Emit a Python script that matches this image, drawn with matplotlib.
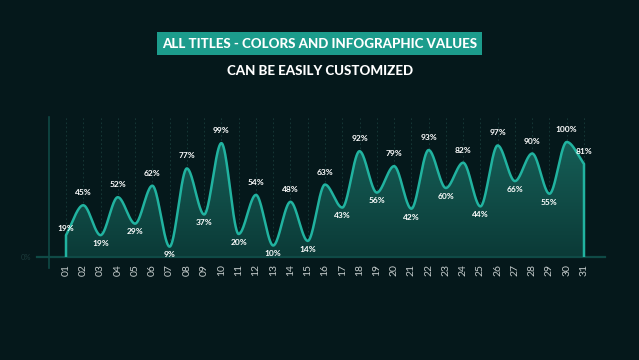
import numpy as np
import matplotlib
matplotlib.use("Agg")
import matplotlib.pyplot as plt
from matplotlib.patches import Rectangle, Polygon
from matplotlib.colors import LinearSegmentedColormap

# ---- data ----
days = ["01", "02", "03", "04", "05", "06", "07", "08", "09", "10", "11", "12", "13", "14", "15", "16",
        "17", "18", "19", "20", "21", "22", "23", "24", "25", "26", "27", "28", "29", "30", "31"]
values = [19, 45, 19, 52, 29, 62, 9, 77, 37, 99, 20, 54, 10, 48, 14, 63,
          43, 92, 56, 79, 42, 93, 60, 82, 44, 97, 66, 90, 55, 100, 81]
title_line1 = "ALL TITLES - COLORS AND INFOGRAPHIC VALUES"
title_line2 = "CAN BE EASILY CUSTOMIZED"

BG = "#05181b"
LINE = "#21b3a0"
BOX = "#1c9c8c"
AX_COL = "#0f4a46"
FONT = ["Lato", "DejaVu Sans"]

W, H = 639, 360
fig = plt.figure(figsize=(W / 100, H / 100), dpi=100, facecolor=BG)

# axes region in pixels
px_left, px_right, px_top, px_base = 49, 605, 117, 257
ax = fig.add_axes([px_left / W, (H - px_base) / H, (px_right - px_left) / W, (px_base - px_top) / H])
ax.set_facecolor(BG)
for s in ax.spines.values():
    s.set_visible(False)

n = len(values)
x = np.arange(1, n + 1, dtype=float)
y = np.array(values, dtype=float) / 100.0

step = (584 - 66) / 30.0
x_lo = 1 - (66 - px_left) / step
x_hi = 31 + (px_right - 584) / step
ppu = 115.0
y_hi = (px_base - px_top) / ppu

# monotone cubic (PCHIP) interpolation
d = np.diff(y)
m = np.zeros(n)
for k in range(1, n - 1):
    if d[k - 1] * d[k] > 0:
        m[k] = 2.0 / (1.0 / d[k - 1] + 1.0 / d[k])
m[0] = d[0]
m[-1] = d[-1]
xs, ys = [], []
for k in range(n - 1):
    t = np.linspace(0, 1, 40, endpoint=(k == n - 2))
    h00 = 2 * t**3 - 3 * t**2 + 1
    h10 = t**3 - 2 * t**2 + t
    h01 = -2 * t**3 + 3 * t**2
    h11 = t**3 - t**2
    xs.append(x[k] + t)
    ys.append(h00 * y[k] + h10 * m[k] + h01 * y[k + 1] + h11 * m[k + 1])
xs = np.concatenate(xs)
ys = np.concatenate(ys)

# grid
for xi in x:
    ax.plot([xi, xi], [0, y_hi], color="#183b39", lw=0.6, ls=(0, (2, 3)), zorder=1)

# gradient fill
poly_x = np.concatenate([[x[0]], xs, [x[-1]]])
poly_y = np.concatenate([[0], ys, [0]])
poly = Polygon(np.column_stack([poly_x, poly_y]), closed=True, facecolor="none", edgecolor="none")
ax.add_patch(poly)
grad = np.linspace(0, 1, 256).reshape(-1, 1)
cmap = LinearSegmentedColormap.from_list("g", ["#0b3a37", "#166058"])
im = ax.imshow(grad, cmap=cmap, extent=[x[0], x[-1], 1.05, 0], aspect="auto", zorder=2, origin="upper")
im.set_clip_path(poly)
ax.set_xlim(x_lo, x_hi)
ax.set_ylim(0, y_hi)

# curve
ax.plot(poly_x, poly_y, color=LINE, lw=1.8, zorder=4, solid_capstyle="round")

# axis lines
ax.plot([1 + (37 - 66) / step, x_hi], [0, 0], color=AX_COL, lw=1.6, clip_on=False, zorder=3)
ax.plot([x_lo, x_lo], [-11 / ppu, y_hi], color=AX_COL, lw=1.2, clip_on=False, zorder=3)
ax.text(1 + (26 - 66) / step, 0, "0%", color="#1c3b3b", fontsize=5.5, ha="center", va="center",
        family=FONT, clip_on=False)

# labels
for i, (xi, v) in enumerate(zip(x, values)):
    if i == 0:
        off = 5
    elif i == n - 1:
        off = 9
    elif values[i] > values[i - 1]:
        off = 9
    else:
        off = -6
    ax.annotate(f"{v}%", (xi, v / 100), xytext=(0, off), textcoords="offset points",
                ha="center", va="center", color="white", fontsize=6, fontweight="bold",
                family=FONT, zorder=5, annotation_clip=False)

ax.set_yticks([])
ax.set_xticks(x)
ax.set_xticklabels(days, rotation=90, color="#c5cccc", fontsize=7.5, family=FONT)
ax.tick_params(axis="x", length=0, pad=5)

# titles
bx0, bx1, by0, by1 = 157, 482, 32, 55
fig.patches.append(Rectangle((bx0 / W, 1 - by1 / H), (bx1 - bx0) / W, (by1 - by0) / H,
                             transform=fig.transFigure, facecolor=BOX, edgecolor="none"))
fig.text(320 / W, 1 - 44 / H, title_line1, color="white", fontsize=9.6, fontweight="black",
         ha="center", va="center", family=FONT)
fig.text(320 / W, 1 - 71 / H, title_line2, color="white", fontsize=9.6, fontweight="black",
         ha="center", va="center", family=FONT)

fig.savefig("out.png", dpi=100, facecolor=BG)
